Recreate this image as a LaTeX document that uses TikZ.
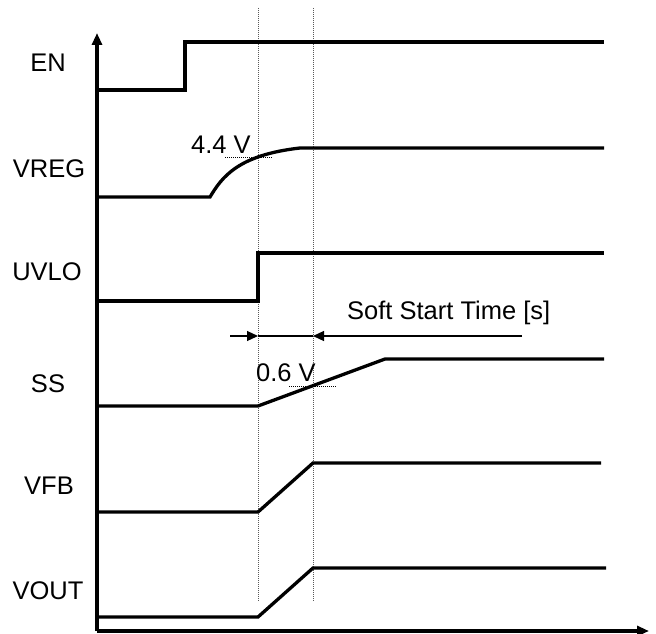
\documentclass[tikz,border=0pt]{standalone}
\usepackage{fontspec}
\setmainfont{Liberation Sans}
\usetikzlibrary{arrows.meta}
\begin{document}
\begin{tikzpicture}[x=1pt,y=-1pt,
  sig/.style={line width=3.3pt},
  axis/.style={line width=3.3pt,-{Triangle[length=12pt,width=10pt]}},
  guide/.style={line width=1pt,gray!70!black,dash pattern=on 1pt off 1pt},
  levelmark/.style={line width=1pt,black,dash pattern=on 1pt off 1pt},
  lab/.style={font=\fontsize{25.5}{30}\selectfont,inner sep=0pt},
  dimarrow/.style={line width=1.2pt,-{Triangle[length=11pt,width=10pt]}}]
\useasboundingbox (0,0) rectangle (656,634);
% axes
\coordinate (O) at (97,631);
\coordinate (Ytop) at (97,33);
\coordinate (Xend) at (649,631);
\draw[axis] (O) -- (Ytop);
\draw[axis] (O) -- (Xend);
% guide lines
\coordinate (G1t) at (258,8); \coordinate (G1b) at (258,602);
\coordinate (G2t) at (313,8); \coordinate (G2b) at (313,602);
\draw[guide] (G1t) -- (G1b);
\draw[guide] (G2t) -- (G2b);
% labels
\node[lab,anchor=base] (en) at (48,72) {EN};
\node[lab,anchor=base] (vreg) at (49,177) {VREG};
\node[lab,anchor=base] (uvlo) at (47,280) {UVLO};
\node[lab,anchor=base] (ss) at (48,392) {SS};
\node[lab,anchor=base] (vfb) at (49,494) {VFB};
\node[lab,anchor=base] (vout) at (48,599) {VOUT};
% EN
\draw[sig] (97,90) -- (185,90) -- (185,42) -- (604,42);
% VREG
\draw[sig] (97,197) -- (210,197) .. controls (222,177) and (238,155) .. (300,148) -- (604,148);
\draw[levelmark] (225,157) -- (273,157);
\node[lab,anchor=base west] (v44) at (191,153) {4.4 V};
% UVLO
\draw[sig] (97,301) -- (258,301) -- (258,253) -- (604,253);
% soft start dimension
\coordinate (A1) at (230,336); \coordinate (A2) at (258,336);
\coordinate (B1) at (522,336); \coordinate (B2) at (313,336);
\draw[dimarrow] (A1) -- (A2);
\draw[dimarrow] (B1) -- (B2);
\draw[line width=2pt] (A2) -- (B2);
\node[lab,anchor=base west] (sst) at (347,319) {Soft Start Time [s]};
% SS
\draw[sig] (97,406) -- (258,406) -- (385,359) -- (604,359);
\draw[levelmark] (289,386) -- (337,386);
\node[lab,anchor=base west] (v06) at (256,381) {0.6 V};
% VFB
\draw[sig] (97,512) -- (258,512) -- (313,463) -- (601,463);
% VOUT
\draw[sig] (97,617) -- (258,617) -- (313,568) -- (606,568);
\end{tikzpicture}
\end{document}
